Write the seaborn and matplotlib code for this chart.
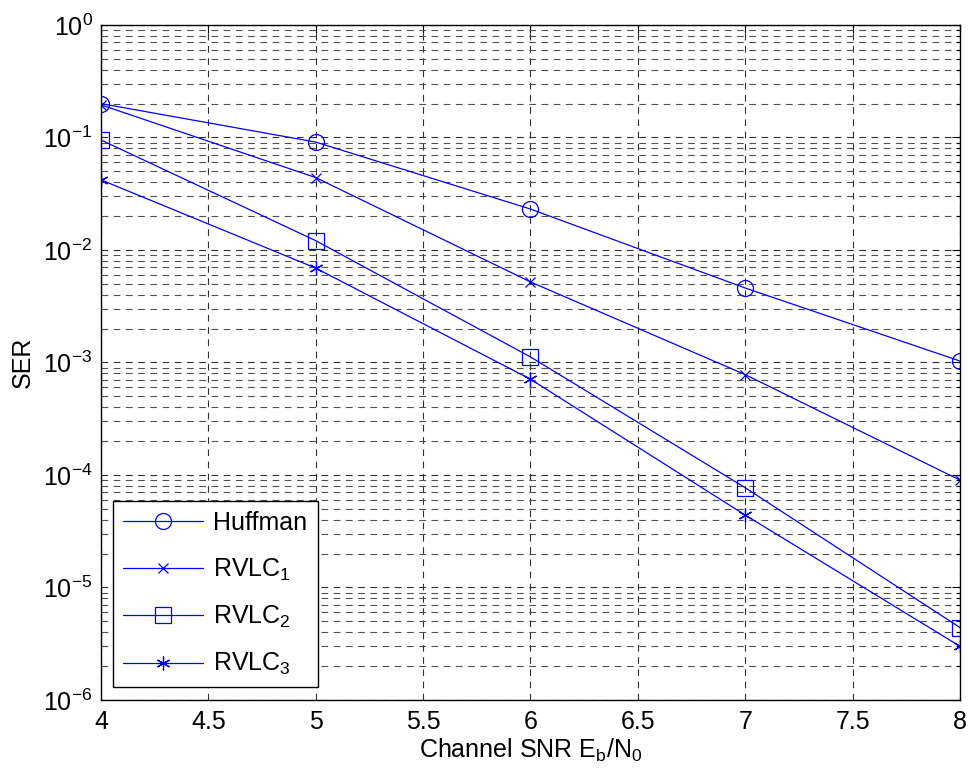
import numpy as np
import pandas as pd
import matplotlib
matplotlib.use("Agg")
import matplotlib.pyplot as plt
import seaborn as sns
from matplotlib.ticker import LogLocator, NullFormatter

snr = [4, 5, 6, 7, 8]
huffman = [0.20, 0.091, 0.0231, 0.00459, 0.00103]
rvlc1 = [0.195, 0.044, 0.0052, 0.00078, 9.0e-5]
rvlc2 = [0.095, 0.0121, 0.00112, 7.7e-5, 4.4e-6]
rvlc3 = [0.042, 0.0069, 0.00071, 4.4e-5, 3.0e-6]
labels = ["Huffman", "RVLC$_1$", "RVLC$_2$", "RVLC$_3$"]
xtick_vals = [4, 4.5, 5, 5.5, 6, 6.5, 7, 7.5, 8]
xtick_labels = ["4", "4.5", "5", "5.5", "6", "6.5", "7", "7.5", "8"]

df = pd.DataFrame({
    "snr": snr * 4,
    "ser": huffman + rvlc1 + rvlc2 + rvlc3,
    "code": sum([[l] * len(snr) for l in labels], []),
})

sns.set_style("white")
plt.rcParams["font.family"] = ["Liberation Sans", "DejaVu Sans"]
plt.rcParams["mathtext.fontset"] = "custom"
plt.rcParams["mathtext.rm"] = "Liberation Sans"
plt.rcParams["mathtext.it"] = "Liberation Sans"
plt.rcParams["mathtext.default"] = "regular"
plt.rcParams["text.color"] = "black"
plt.rcParams["axes.labelcolor"] = "black"
plt.rcParams["xtick.color"] = "black"
plt.rcParams["ytick.color"] = "black"

FS = 18
fig = plt.figure(figsize=(9.68, 7.78), dpi=100)
ax = fig.add_axes([0.1043, 0.1003, 0.8874, 0.8676])

markers = {labels[0]: "o", labels[1]: "x", labels[2]: "s", labels[3]: (6, 2, 0)}
sizes = {labels[0]: 11.5, labels[1]: 7, labels[2]: 11.5, labels[3]: 10}
for lab in labels:
    sub = df[df["code"] == lab]
    sns.lineplot(data=sub, x="snr", y="ser", ax=ax, color="#0000ff",
                 marker=markers[lab], markersize=sizes[lab],
                 markerfacecolor="none", markeredgecolor="#0000ff",
                 markeredgewidth=0.9, linewidth=0.9, label=lab)

ax.set_yscale("log")
ax.set_xlim(4, 8)
ax.set_ylim(1e-6, 1)
ax.set_xticks(xtick_vals)
ax.set_xticklabels(xtick_labels)
ax.yaxis.set_major_locator(LogLocator(base=10, numticks=10))
ax.yaxis.set_minor_locator(LogLocator(base=10, subs=np.arange(2, 10), numticks=20))
ax.yaxis.set_minor_formatter(NullFormatter())

ax.grid(True, which="major", axis="both", linestyle=(0, (6, 5)), color="#303030", linewidth=0.8)
ax.grid(True, which="minor", axis="y", linestyle=(0, (6, 5)), color="#505050", linewidth=0.8)
ax.tick_params(axis="both", which="both", direction="in", top=True, right=True,
               labelsize=FS, color="black", labelcolor="black")
ax.tick_params(axis="both", which="major", length=6, width=0.8)
ax.tick_params(axis="y", which="minor", length=3, width=0.8)
ax.tick_params(axis="x", pad=7)
ax.tick_params(axis="y", pad=6)
for s in ax.spines.values():
    s.set_color("black")
    s.set_linewidth(1.0)

ax.set_xlabel("Channel SNR E$_b$/N$_0$", fontsize=FS, labelpad=2, color="black")
ax.set_ylabel("SER", fontsize=FS, labelpad=6, color="black")

leg = ax.legend(loc="lower left", fontsize=FS, frameon=True, fancybox=False,
                edgecolor="black", framealpha=1, handlelength=3.2,
                borderaxespad=0.5, labelspacing=0.85, handletextpad=0.4,
                borderpad=0.4)
leg.get_frame().set_linewidth(1.0)
for t in leg.get_texts():
    t.set_color("black")

fig.savefig("out.png", dpi=100, facecolor="white")
